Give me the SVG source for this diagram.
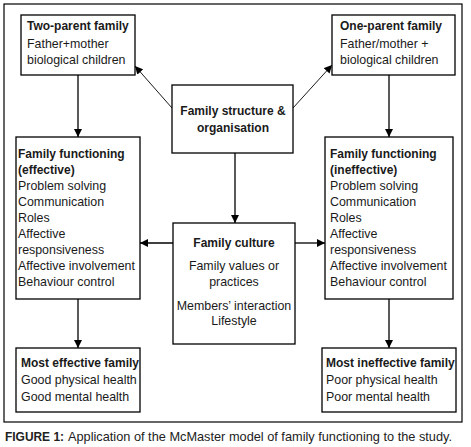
<svg xmlns="http://www.w3.org/2000/svg" width="471" height="447" viewBox="0 0 471 447">
<defs>
<marker id="ah" viewBox="0 0 10 10" refX="10" refY="5" markerWidth="8" markerHeight="8" markerUnits="userSpaceOnUse" orient="auto">
<path d="M0,0 L10,5 L0,10 z" fill="#000"/>
</marker>
<style>
.box{fill:#fff;stroke:#000;stroke-width:1.3}
.t{font-family:"Liberation Sans",Arial,sans-serif;font-size:12.4px;fill:#1a1a1a}
.b{font-weight:bold;font-size:12px}
.c{text-anchor:middle}
.ln{stroke:#000;stroke-width:1.3;fill:none}
.thin{stroke:#000;stroke-width:0.9;fill:none}
.cap{font-family:"Liberation Sans",Arial,sans-serif;font-size:13px;fill:#222}
</style>
</defs>
<rect x="0" y="0" width="471" height="447" fill="#fff"/>
<rect x="4" y="4" width="458" height="418" fill="none" stroke="#000" stroke-width="1.2"/>

<g id="connectors">
<line class="thin" x1="172" y1="108" x2="135" y2="66" marker-end="url(#ah)"/>
<line class="thin" x1="293" y1="108" x2="332" y2="65" marker-end="url(#ah)"/>
<line class="ln" x1="78" y1="75" x2="78" y2="137" marker-end="url(#ah)"/>
<line class="ln" x1="389" y1="75" x2="389" y2="137" marker-end="url(#ah)"/>
<line class="ln" x1="235" y1="153" x2="235" y2="223" marker-end="url(#ah)"/>
<line class="ln" x1="173" y1="243" x2="140" y2="243" marker-end="url(#ah)"/>
<line class="ln" x1="295" y1="243" x2="325" y2="243" marker-end="url(#ah)"/>
<line class="ln" x1="78" y1="299" x2="78" y2="348" marker-end="url(#ah)"/>
<line class="ln" x1="389" y1="299" x2="389" y2="348" marker-end="url(#ah)"/>
</g>

<g id="two-parent">
<rect class="box" x="21" y="15" width="114" height="60"/>
<text class="t b" x="27" y="30">Two-parent family</text>
<text class="t" x="27" y="48">Father+mother</text>
<text class="t" x="27" y="64">biological children</text>
</g>

<g id="one-parent">
<rect class="box" x="332" y="15" width="123" height="60"/>
<text class="t b" x="340" y="30">One-parent family</text>
<text class="t" x="340" y="48">Father/mother +</text>
<text class="t" x="340" y="64">biological children</text>
</g>

<g id="structure">
<rect class="box" x="172" y="85" width="121" height="68"/>
<text class="t b c" x="233" y="115">Family structure &amp;</text>
<text class="t b c" x="233" y="132">organisation</text>
</g>

<g id="ff-effective">
<rect class="box" x="16" y="137" width="124" height="162"/>
<text class="t b" x="18" y="158">Family functioning</text>
<text class="t b" x="18" y="174">(effective)</text>
<text class="t" x="18" y="190">Problem solving</text>
<text class="t" x="18" y="206">Communication</text>
<text class="t" x="18" y="222">Roles</text>
<text class="t" x="18" y="238">Affective</text>
<text class="t" x="18" y="254">responsiveness</text>
<text class="t" x="18" y="270">Affective involvement</text>
<text class="t" x="18" y="286">Behaviour control</text>
</g>

<g id="ff-ineffective">
<rect class="box" x="325" y="137" width="128" height="162"/>
<text class="t b" x="330" y="158">Family functioning</text>
<text class="t b" x="330" y="174">(ineffective)</text>
<text class="t" x="330" y="190">Problem solving</text>
<text class="t" x="330" y="206">Communication</text>
<text class="t" x="330" y="222">Roles</text>
<text class="t" x="330" y="238">Affective</text>
<text class="t" x="330" y="254">responsiveness</text>
<text class="t" x="330" y="270">Affective involvement</text>
<text class="t" x="330" y="286">Behaviour control</text>
</g>

<g id="culture">
<rect class="box" x="173" y="223" width="122" height="121"/>
<text class="t b c" x="234" y="247">Family culture</text>
<text class="t c" x="234" y="270">Family values or</text>
<text class="t c" x="234" y="286">practices</text>
<text class="t c" x="234" y="310">Members’ interaction</text>
<text class="t c" x="234" y="325">Lifestyle</text>
</g>

<g id="most-effective">
<rect class="box" x="16" y="348" width="124" height="64"/>
<text class="t b" x="21" y="367">Most effective family</text>
<text class="t" x="21" y="384">Good physical health</text>
<text class="t" x="21" y="401">Good mental health</text>
</g>

<g id="most-ineffective">
<rect class="box" x="322" y="348" width="134" height="64"/>
<text class="t b" x="326" y="367">Most ineffective family</text>
<text class="t" x="326" y="384">Poor physical health</text>
<text class="t" x="326" y="401">Poor mental health</text>
</g>

<text class="cap" x="5" y="441" font-weight="bold" textLength="59" lengthAdjust="spacingAndGlyphs">FIGURE 1:</text>
<text class="cap" x="68" y="441" textLength="384" lengthAdjust="spacingAndGlyphs">Application of the McMaster model of family functioning to the study.</text>
</svg>
